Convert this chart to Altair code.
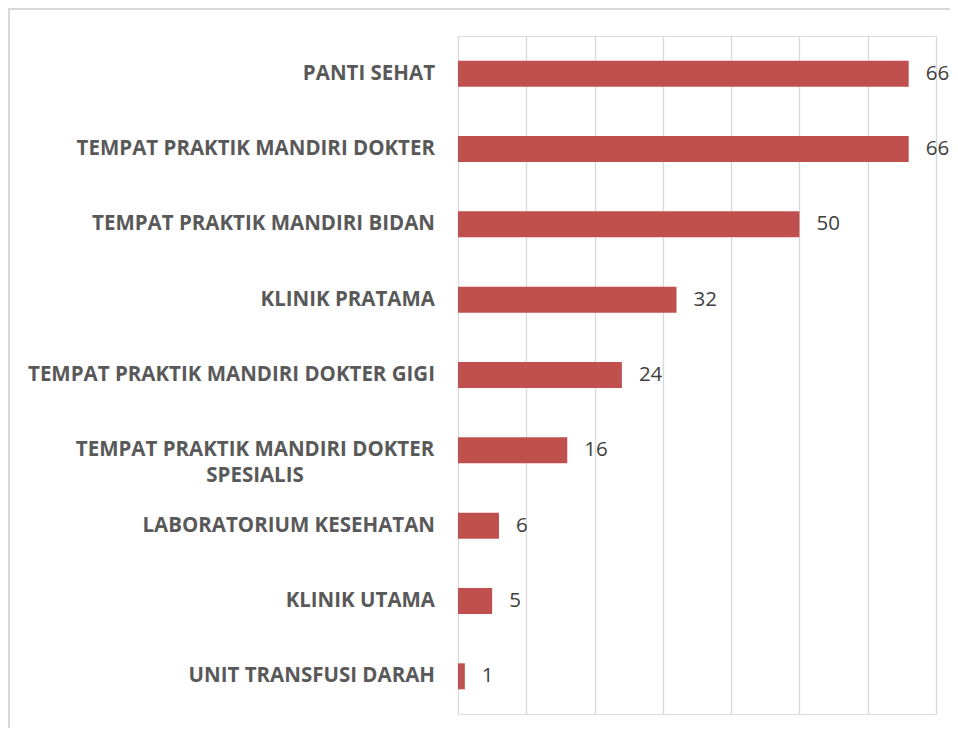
import altair as alt
import pandas as pd

categories = [
    "PANTI SEHAT",
    "TEMPAT PRAKTIK MANDIRI DOKTER",
    "TEMPAT PRAKTIK MANDIRI BIDAN",
    "KLINIK PRATAMA",
    "TEMPAT PRAKTIK MANDIRI DOKTER GIGI",
    "TEMPAT PRAKTIK MANDIRI DOKTER|SPESIALIS",
    "LABORATORIUM KESEHATAN",
    "KLINIK UTAMA",
    "UNIT TRANSFUSI DARAH",
]
values = [66, 66, 50, 32, 24, 16, 6, 5, 1]
grid_ticks = [0, 10, 20, 30, 40, 50, 60, 70]

df = pd.DataFrame({"cat": categories, "val": values})

W, H = 478, 678
PAD_L, PAD_T, PAD_R, PAD_B = 450, 28, 14, 14

y = alt.Y("cat:N", sort=categories, axis=None,
          scale=alt.Scale(paddingInner=0.655, paddingOuter=0.3275))
x = alt.X("val:Q", scale=alt.Scale(domain=[0, 70], nice=False),
          axis=alt.Axis(values=grid_ticks, grid=True, gridColor="#d9d9d9", gridWidth=1.3,
                        labels=False, ticks=False, domain=False, title=None))

base = alt.Chart(df)

bars = base.mark_bar(color="#c0504d").encode(x=x, y=y)

vals = base.mark_text(align="left", baseline="middle", dx=17, font="Open Sans",
                      fontSize=20.5, color="#404040").encode(x="val:Q", y=y, text="val:Q")

labels1 = base.transform_filter("indexof(datum.cat, '|') < 0").mark_text(
    align="right", baseline="middle", font="Open Sans", fontWeight="bold",
    fontSize=20.5, color="#595959").encode(x=alt.value(-23), y=y, text="cat:N")

labels2 = base.transform_filter("indexof(datum.cat, '|') >= 0").transform_calculate(
    lines="split(datum.cat, '|')").mark_text(
    align="center", baseline="middle", font="Open Sans", fontWeight="bold",
    fontSize=20.5, color="#595959", lineHeight=26).encode(
    x=alt.value(-203), y=y, text="lines:N")

frame = alt.Chart(pd.DataFrame({"a": [0]})).mark_rect(
    fill=None, stroke="#d9d9d9", strokeWidth=2).encode(
    x=alt.value(-PAD_L + 1), x2=alt.value(W + PAD_R + 20),
    y=alt.value(-PAD_T + 1), y2=alt.value(H + PAD_B + 40))

chart = alt.layer(frame, bars, vals, labels1, labels2).properties(
    width=W, height=H,
    autosize=alt.AutoSizeParams(type="none"),
    padding={"left": PAD_L, "top": PAD_T, "right": PAD_R, "bottom": PAD_B},
).configure_view(stroke=None).configure(background="white")

chart.save("out.html", embed_options={"renderer": "svg", "actions": False})
